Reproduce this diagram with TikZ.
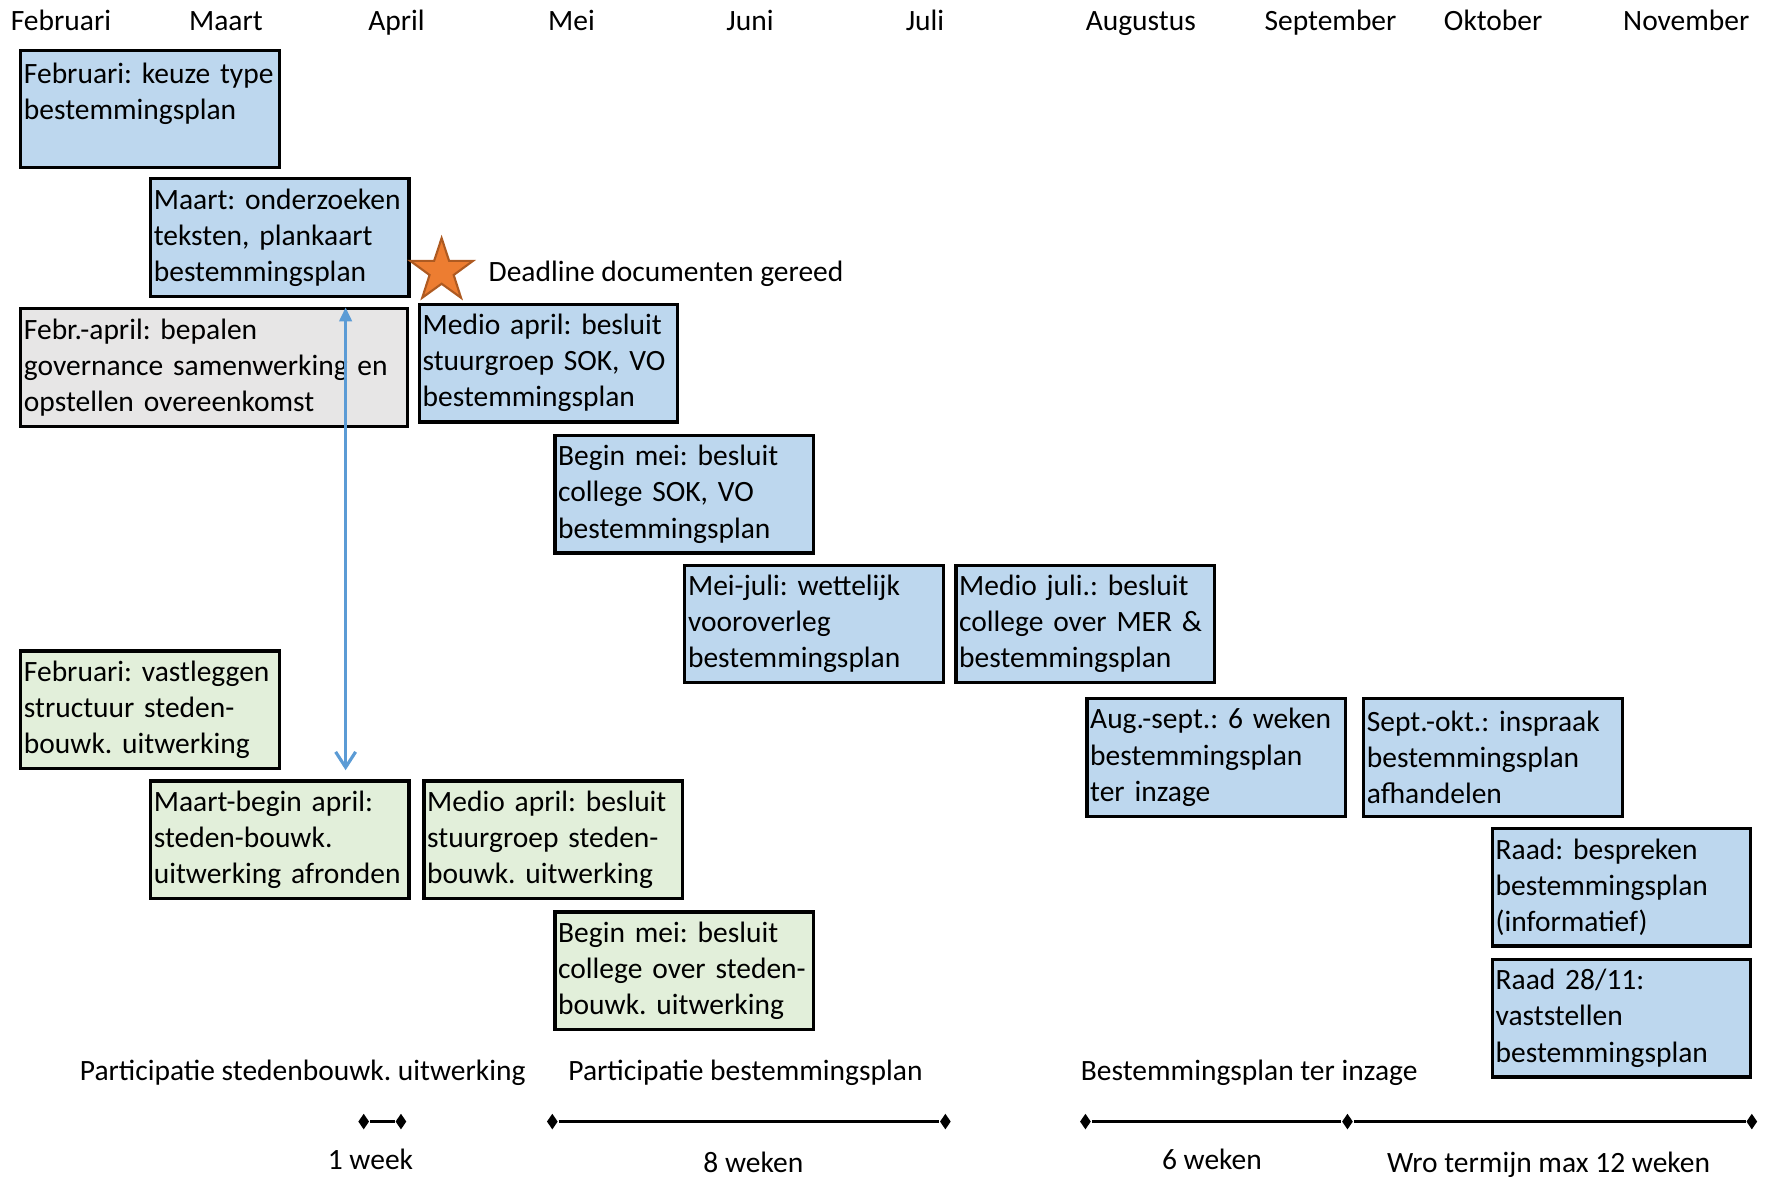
\documentclass[tikz,border=0pt]{standalone}
\usepackage{fontspec}
\setmainfont{Carlito}
\usepackage{tikz}
\usetikzlibrary{arrows.meta,shapes.geometric}

\definecolor{bpblue}{RGB}{189,215,238}
\definecolor{sbgreen}{RGB}{226,239,218}
\definecolor{govgray}{RGB}{231,230,230}
\definecolor{linkblue}{RGB}{91,155,213}
\definecolor{starorange}{RGB}{237,125,49}
\definecolor{stardark}{RGB}{174,90,33}

\frenchspacing
\hyphenpenalty=10000
\exhyphenpenalty=10000

\begin{document}
\begin{tikzpicture}[x=0.0113cm,y=-0.0113cm,
    every node/.style={font=\fontsize{8.4}{10.3}\selectfont},
    stap/.style={draw,line width=0.9pt,anchor=north west,align=left,
      inner xsep=0.9pt,inner ysep=0pt,text width=71.8pt,minimum height=1.178cm},
    breed/.style={stap,text width=108.4pt},
    bp/.style={stap,fill=bpblue},
    sb/.style={stap,fill=sbgreen},
    maand/.style={anchor=base},
    punt/.style={diamond,fill=black,inner sep=0pt,minimum width=3.2pt,minimum height=4.6pt}]
    \useasboundingbox (0,0) rectangle (1568,1042);

    % maanden
    \node[maand] (m2) at (54,27) {Februari};
    \node[maand] (m3) at (200,27) {Maart};
    \node[maand] (m4) at (351,27) {April};
    \node[maand] (m5) at (506,27) {Mei};
    \node[maand] (m6) at (664,27) {Juni};
    \node[maand] (m7) at (819,27) {Juli};
    \node[maand] (m8) at (1010,27) {Augustus};
    \node[maand] (m9) at (1178,27) {September};
    \node[maand] (m10) at (1322,27) {Oktober};
    \node[maand] (m11) at (1493,27) {November};

    % bestemmingsplan
    \node[bp] (keuze) at (17,43) {Februari: keuze type\\bestemmingsplan\\~};
    \node[bp] (onderzoek) at (132,157) {Maart: onderzoeken\\teksten, plankaart\\bestemmingsplan};
    \node[breed,fill=govgray] (gov) at (17,272) {Febr.-april: bepalen\\governance samenwerking en\\opstellen overeenkomst};
    \node[bp] (sgsok) at (370,268) {Medio april: besluit\\stuurgroep SOK, VO\\bestemmingsplan};
    \node[bp] (colsok) at (490,384) {Begin mei: besluit\\college SOK, VO\\bestemmingsplan};
    \node[bp] (vooroverleg) at (605,499) {Mei-juli: wettelijk\\vooroverleg\\bestemmingsplan};
    \node[bp] (mer) at (845,499) {Medio juli.: besluit\\college over MER \&\\bestemmingsplan};
    \node[bp] (inzage) at (961,617) {Aug.-sept.: 6 weken\\bestemmingsplan\\ter inzage};
    \node[bp] (inspraak) at (1206,617) {Sept.-okt.: inspraak\\bestemmingsplan\\afhandelen};
    \node[bp] (raad1) at (1320,732) {Raad: bespreken\\bestemmingsplan\\(informatief)};
    \node[bp] (raad2) at (1320,848) {Raad 28/11:\\vaststellen\\bestemmingsplan};

    % deadline
    \node[star,star points=5,star point ratio=2.6,minimum size=0.66cm,inner sep=0pt,
      fill=starorange,draw=stardark,line width=0.6pt] (ster) at (391,240) {};
    \node[anchor=base west,inner sep=0pt] (deadline) at (432,249) {Deadline documenten gereed};

    % stedenbouwkundige uitwerking
    \node[sb] (sb1) at (17,575) {Februari: vastleggen\\structuur steden-\\bouwk. uitwerking};
    \node[sb] (sb2) at (132,690) {Maart-begin april:\\steden-bouwk.\\uitwerking afronden};
    \node[sb] (sb3) at (374,690) {Medio april: besluit\\stuurgroep steden-\\bouwk. uitwerking};
    \node[sb] (sb4) at (490,806) {Begin mei: besluit\\college over steden-\\bouwk. uitwerking};

    \draw[linkblue,line width=0.9pt,{Triangle[length=4pt,width=3.5pt]}-{Straight Barb[length=4.4pt,width=5.7pt]},
      shorten <=2.6pt,shorten >=2.6pt] (onderzoek.south -| 306,0) -- (sb2.north -| 306,0);

    % participatie en termijnen
    \node[anchor=base] (psb) at (268,957) {Participatie stedenbouwk. uitwerking};
    \node[anchor=base] (pbp) at (660,957) {Participatie bestemmingsplan};
    \node[anchor=base] (pinz) at (1106,957) {Bestemmingsplan ter inzage};

    \node[punt] (d1) at (322,993) {};
    \node[punt] (d2) at (355,993) {};
    \node[punt] (d3) at (489,993) {};
    \node[punt] (d4) at (837,993) {};
    \node[punt] (d5) at (961,993) {};
    \node[punt] (d6) at (1193,993) {};
    \node[punt] (d7) at (1551,993) {};
    \draw[line width=0.9pt] (d1) -- (d2);
    \draw[line width=0.9pt] (d3) -- (d4);
    \draw[line width=0.9pt] (d5) -- (d6) -- (d7);

    \node[anchor=base] (w1) at (328,1035) {1 week};
    \node[anchor=base] (w8) at (667,1038) {8 weken};
    \node[anchor=base] (w6) at (1073,1035) {6 weken};
    \node[anchor=base] (w12) at (1371,1038) {Wro termijn max 12 weken};
\end{tikzpicture}
\end{document}
